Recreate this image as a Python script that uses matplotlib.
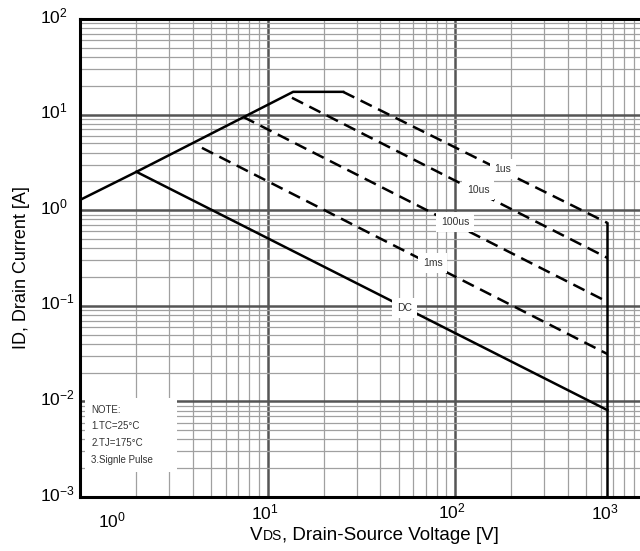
import numpy as np
import matplotlib
matplotlib.use("Agg")
import matplotlib.pyplot as plt
from matplotlib.patches import Rectangle

# Safe operating area
# RDS(on) limit and current limit (solid envelope)
rds_v = [1.0, 2.0, 13.7, 25.3]
rds_i = [1.28, 2.52, 17.3, 17.3]

# single pulse lines (dashed), each runs from the envelope to V_MAX
pulse_names = ["1us", "10us", "100us", "1ms"]
pulse_v0 = [25.3, 13.5, 7.4, 4.47]
pulse_i0 = [17.3, 15.0, 9.48, 4.49]
pulse_i1 = [0.736, 0.317, 0.110, 0.0313]
pulse_label_v = [180, 133, 100, 76]

# DC line
dc_v = [2.0, 650.0]
dc_i = [2.52, 0.0081]
dc_label_v = 54

V_MAX = 650.0
notes = ["NOTE:", "1.TC=25\u00b0C", "2.TJ=175\u00b0C", "3.Signle Pulse"]

plt.rcParams["font.family"] = ["Liberation Sans", "DejaVu Sans"]
plt.rcParams["mathtext.fontset"] = "custom"
plt.rcParams["mathtext.rm"] = "Liberation Sans"
plt.rcParams["mathtext.it"] = "Liberation Sans"

W, H = 640, 551
fig = plt.figure(figsize=(W / 100, H / 100), dpi=100)
ax = fig.add_axes([80 / W, (H - 497) / H, 562.5 / W, 478 / H])
ax.set_xscale("log")
ax.set_yscale("log")
ax.set_xlim(1, 1000)
ax.set_ylim(1e-3, 1e2)

# grid: minor lines every 2..9, thick lines at decades
for d in [1, 10, 100]:
    for k in range(2, 10):
        ax.axvline(d * k, color="#a0a0a0", lw=0.9, zorder=1)
for d in [10, 100]:
    ax.axvline(d, color="#555555", lw=1.8, zorder=1)
for d in [1e-3, 1e-2, 1e-1, 1, 10]:
    for k in range(2, 10):
        ax.axhline(d * k, color="#a0a0a0", lw=0.9, zorder=1)
for d in [1e-2, 1e-1, 1, 10]:
    ax.axhline(d, color="#555555", lw=1.8, zorder=1)

ax.set_xticks([])
ax.set_yticks([])
ax.minorticks_off()
for s in ["left", "bottom", "top"]:
    ax.spines[s].set_linewidth(2.2)
ax.spines["right"].set_visible(False)


def on_line(v, va, vb, ia, ib):
    t = (np.log10(v) - np.log10(va)) / (np.log10(vb) - np.log10(va))
    return 10 ** (np.log10(ia) + t * (np.log10(ib) - np.log10(ia)))


# envelope
ax.plot(rds_v, rds_i, color="black", lw=1.8, zorder=3)
ax.plot([V_MAX, V_MAX], [pulse_i1[0], 1e-3], color="black", lw=1.8, zorder=3)

# pulses
for name, v0, i0, i1, lv in zip(pulse_names, pulse_v0, pulse_i0, pulse_i1, pulse_label_v):
    ax.plot([v0, V_MAX], [i0, i1], color="black", lw=1.8, dashes=(5, 2.8), zorder=3)
    ax.text(lv, on_line(lv, v0, V_MAX, i0, i1) * 1.06, name, fontsize=7.5, color="#333333",
            ha="center", va="center",
            bbox=dict(facecolor="white", edgecolor="none", pad=3.5), zorder=4)

# DC
ax.plot(dc_v, dc_i, color="black", lw=1.8, zorder=3)
ax.text(dc_label_v, on_line(dc_label_v, dc_v[0], dc_v[1], dc_i[0], dc_i[1]), "DC",
        fontsize=7.5, color="#333333", ha="center", va="center",
        bbox=dict(facecolor="white", edgecolor="none", pad=3.5), zorder=4)

# note box
ax.add_patch(Rectangle((0.009, 0.052), 0.163, 0.155, transform=ax.transAxes,
                       facecolor="white", edgecolor="none", zorder=2))
for j, line in enumerate(notes):
    ax.text(0.02, 0.183 - j * 0.035, line, transform=ax.transAxes, fontsize=7,
            color="#333333", ha="left", va="center", zorder=4)

# tick labels, placed as in the datasheet
ylabs = ["$10^{2}$", "$10^{1}$", "$10^{0}$", "$10^{-1}$", "$10^{-2}$", "$10^{-3}$"]
for j, lab in enumerate(ylabs):
    fig.text(40 / W, 1 - (16 + j * 95.6) / H, lab, fontsize=12.5, ha="left", va="center")
xlabs = ["$10^{0}$", "$10^{1}$", "$10^{2}$", "$10^{3}$"]
xpos = [112, 265, 452, 605]
ypos = [520, 512, 511, 512]
for lab, xp, yp in zip(xlabs, xpos, ypos):
    fig.text(xp / W, 1 - yp / H, lab, fontsize=12.5, ha="center", va="center")

# x label: "V" + small "DS" + rest
t1 = fig.text(250 / W, 1 - 544 / H, "V", fontsize=13.5, ha="left", va="bottom")
t2 = fig.text(0, 0, "DS", fontsize=10, ha="left", va="bottom")
t3 = fig.text(0, 0, ", Drain-Source Voltage [V]", fontsize=13.5, ha="left", va="bottom")
fig.canvas.draw()
r = fig.canvas.get_renderer()
b1 = t1.get_window_extent(r)
t2.set_position((b1.x1 / (W), b1.y0 / H + 1.5 / H))
b2 = t2.get_window_extent(r)
t3.set_position((b2.x1 / W, b1.y0 / H))

fig.text(22 / W, 1 - 268 / H, "ID, Drain Current [A]", fontsize=13,
         rotation=90, ha="center", va="center")

fig.savefig("out.png", dpi=100)
